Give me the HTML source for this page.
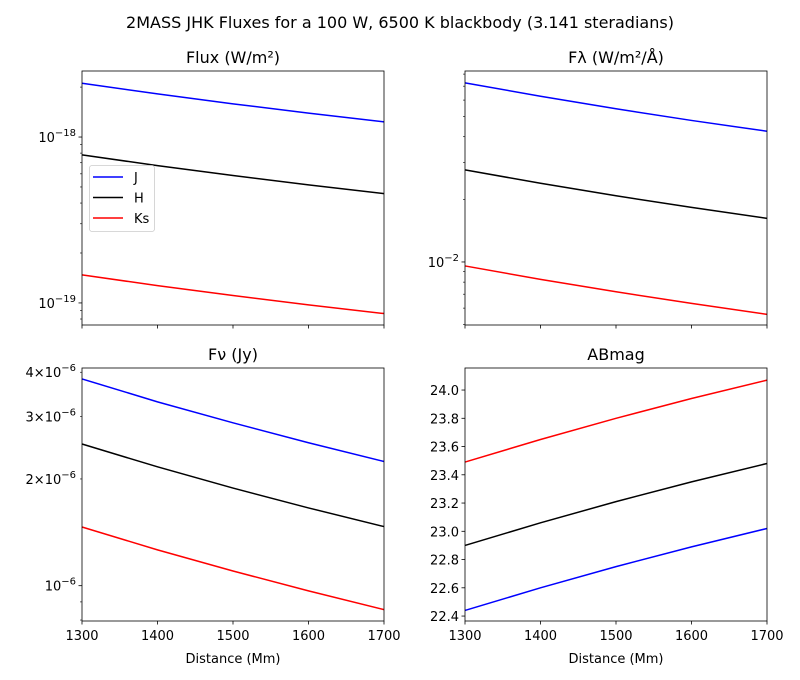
<!DOCTYPE html>
<html><head><meta charset="utf-8">
<style>
html,body{margin:0;padding:0;background:#fff;}
svg{display:block;font-family:"DejaVu Sans","Liberation Sans",sans-serif;}
</style></head>
<body>
<svg id="chart" width="800" height="680" viewBox="0 0 800 680" xmlns="http://www.w3.org/2000/svg">
<rect x="0" y="0" width="800" height="680" fill="#fff"/>
<text x="400" y="28" text-anchor="middle" font-size="16">2MASS JHK Fluxes for a 100 W, 6500 K blackbody (3.141 steradians)</text>
</svg>
<script>
const distances = [1300, 1400, 1500, 1600, 1700];
const seriesNames = ['J', 'H', 'Ks'];
const seriesColors = ['#0000ff', '#000000', '#ff0000'];
const xTicks = [1300, 1400, 1500, 1600, 1700];

const fluxJ = [2.11e-18, 1.819e-18, 1.585e-18, 1.393e-18, 1.234e-18];
const fluxH = [7.8e-19, 6.725e-19, 5.86e-19, 5.15e-19, 4.56e-19];
const fluxKs = [1.475e-19, 1.272e-19, 1.108e-19, 0.974e-19, 0.863e-19];

const flamJ = [0.0726, 0.0626, 0.0545, 0.0479, 0.0425];
const flamH = [0.0277, 0.0239, 0.0208, 0.01829, 0.0162];
const flamKs = [0.00957, 0.00825, 0.00719, 0.00632, 0.0056];

const fnuJ = [3.83e-6, 3.30e-6, 2.88e-6, 2.53e-6, 2.24e-6];
const fnuH = [2.51e-6, 2.164e-6, 1.885e-6, 1.657e-6, 1.468e-6];
const fnuKs = [1.464e-6, 1.262e-6, 1.10e-6, 0.967e-6, 0.856e-6];

const abJ = [22.44, 22.60, 22.75, 22.89, 23.02];
const abH = [22.90, 23.06, 23.21, 23.35, 23.48];
const abKs = [23.49, 23.65, 23.80, 23.94, 24.07];
const abTicks = [22.4, 22.6, 22.8, 23.0, 23.2, 23.4, 23.6, 23.8, 24.0];

const NS = 'http://www.w3.org/2000/svg';
const svg = document.getElementById('chart');
function mk(tag, attrs, parent) {
  const e = document.createElementNS(NS, tag);
  for (const k in attrs) e.setAttribute(k, attrs[k]);
  (parent || svg).appendChild(e);
  return e;
}
function supLabel(g, x, y, mant, exp) {
  const t = mk('text', {x: x, y: y, 'text-anchor': 'end', 'font-size': '13'}, g);
  
  
  let s = '';
  if (mant) s += mant + '\u00d7';
  s += '10';
  const a = document.createElementNS(NS, 'tspan'); a.textContent = s; t.appendChild(a);
  const b = document.createElementNS(NS, 'tspan');
  b.setAttribute('dy', '-6'); b.setAttribute('font-size', '10');
  b.textContent = '\u2212' + Math.abs(exp);
  t.appendChild(b);
}

function panel(cfg) {
  const {name, x0, y0, w, h, title, ylog, ymin, ymax, series, showX} = cfg;
  const g = mk('g', {});
  
  
  const xs = v => x0 + (v - 1300) / 400 * w;
  const tf = v => ylog ? Math.log10(v) : v;
  const ys = v => y0 + h - (tf(v) - tf(ymin)) / (tf(ymax) - tf(ymin)) * h;

  const tt = mk('text', {x: x0 + w / 2, y: y0 - 8, 'text-anchor': 'middle', 'font-size': '16'}, g);
  
  
  tt.textContent = title;

  series.forEach((s, i) => {
    const pts = distances.map((d, j) => xs(d).toFixed(2) + ',' + ys(s[j]).toFixed(2)).join(' ');
    const pl = mk('polyline', {points: pts, fill: 'none', stroke: seriesColors[i], 'stroke-width': '1.5'}, g);
    
    
  });

  xTicks.forEach(t => {
    const x = xs(t);
    mk('line', {x1: x, x2: x, y1: y0 + h, y2: y0 + h + 3.5, stroke: '#000', 'stroke-width': '0.8'}, g);
    if (showX) {
      const l = mk('text', {x: x, y: y0 + h + 19, 'text-anchor': 'middle', 'font-size': '13'}, g);
      
      
      l.textContent = t;
    }
  });
  if (showX) {
    const xl = mk('text', {x: x0 + w / 2, y: y0 + h + 42, 'text-anchor': 'middle', 'font-size': '13'}, g);
    
    
    xl.textContent = 'Distance (Mm)';
  }

  if (ylog) {
    const lo = Math.floor(Math.log10(ymin)), hi = Math.ceil(Math.log10(ymax));
    for (let e = lo; e <= hi; e++) {
      for (let k = 1; k <= 9; k++) {
        const v = k * Math.pow(10, e);
        if (v < ymin * 0.9999 || v > ymax * 1.0001) continue;
        const y = ys(v);
        const major = k === 1;
        mk('line', {x1: x0, x2: x0 - (major ? 3.5 : 2), y1: y, y2: y, stroke: '#000', 'stroke-width': major ? '0.8' : '0.6'}, g);
        if (major) supLabel(g, x0 - 6, y + 5, '', e);
        else if (cfg.labelMinor && cfg.labelMinor.includes(k) && e === cfg.minorExp) supLabel(g, x0 - 6, y + 5, String(k), e);
      }
    }
  } else {
    abTicks.forEach(t => {
      const y = ys(t);
      mk('line', {x1: x0, x2: x0 - 3.5, y1: y, y2: y, stroke: '#000', 'stroke-width': '0.8'}, g);
      const l = mk('text', {x: x0 - 6, y: y + 5, 'text-anchor': 'end', 'font-size': '13'}, g);
      
      
      l.textContent = t.toFixed(1);
    });
  }
  const fr = mk('rect', {x: x0, y: y0, width: w, height: h, fill: 'none', stroke: '#000', 'stroke-width': '0.8'}, g);
  
  
  return g;
}

panel({name: 'flux-panel', x0: 82, y0: 71, w: 302, h: 254, title: 'Flux (W/m\u00b2)', ylog: true,
  ymin: Math.pow(10, -19.133), ymax: Math.pow(10, -17.602), series: [fluxJ, fluxH, fluxKs], showX: false});
panel({name: 'flambda-panel', x0: 465, y0: 71, w: 302, h: 254, title: 'F\u03bb (W/m\u00b2/\u00c5)', ylog: true,
  ymin: Math.pow(10, -2.303), ymax: Math.pow(10, -1.082), series: [flamJ, flamH, flamKs], showX: false});
panel({name: 'fnu-panel', x0: 82, y0: 368, w: 302, h: 253, title: 'F\u03bd (Jy)', ylog: true,
  ymin: Math.pow(10, -6.0996), ymax: Math.pow(10, -5.386), series: [fnuJ, fnuH, fnuKs], showX: true,
  labelMinor: [2, 3, 4], minorExp: -6});
panel({name: 'abmag-panel', x0: 465, y0: 368, w: 302, h: 253, title: 'ABmag', ylog: false,
  ymin: 22.365, ymax: 24.156, series: [abJ, abH, abKs], showX: true});

const lg = mk('g', {});


mk('rect', {x: 89.5, y: 165.5, width: 65, height: 66, rx: 2.5, fill: '#fff', 'fill-opacity': '0.8', stroke: '#ccc', 'stroke-width': '0.8'}, lg);
seriesNames.forEach((n, i) => {
  const y = 177 + i * 20.5;
  const ln = mk('line', {x1: 93, x2: 123, y1: y, y2: y, stroke: seriesColors[i], 'stroke-width': '1.5'}, lg);
  
  
  const t = mk('text', {x: 134, y: y + 5, 'font-size': '13'}, lg);
  
  
  t.textContent = n;
});
</script>
</body></html>
